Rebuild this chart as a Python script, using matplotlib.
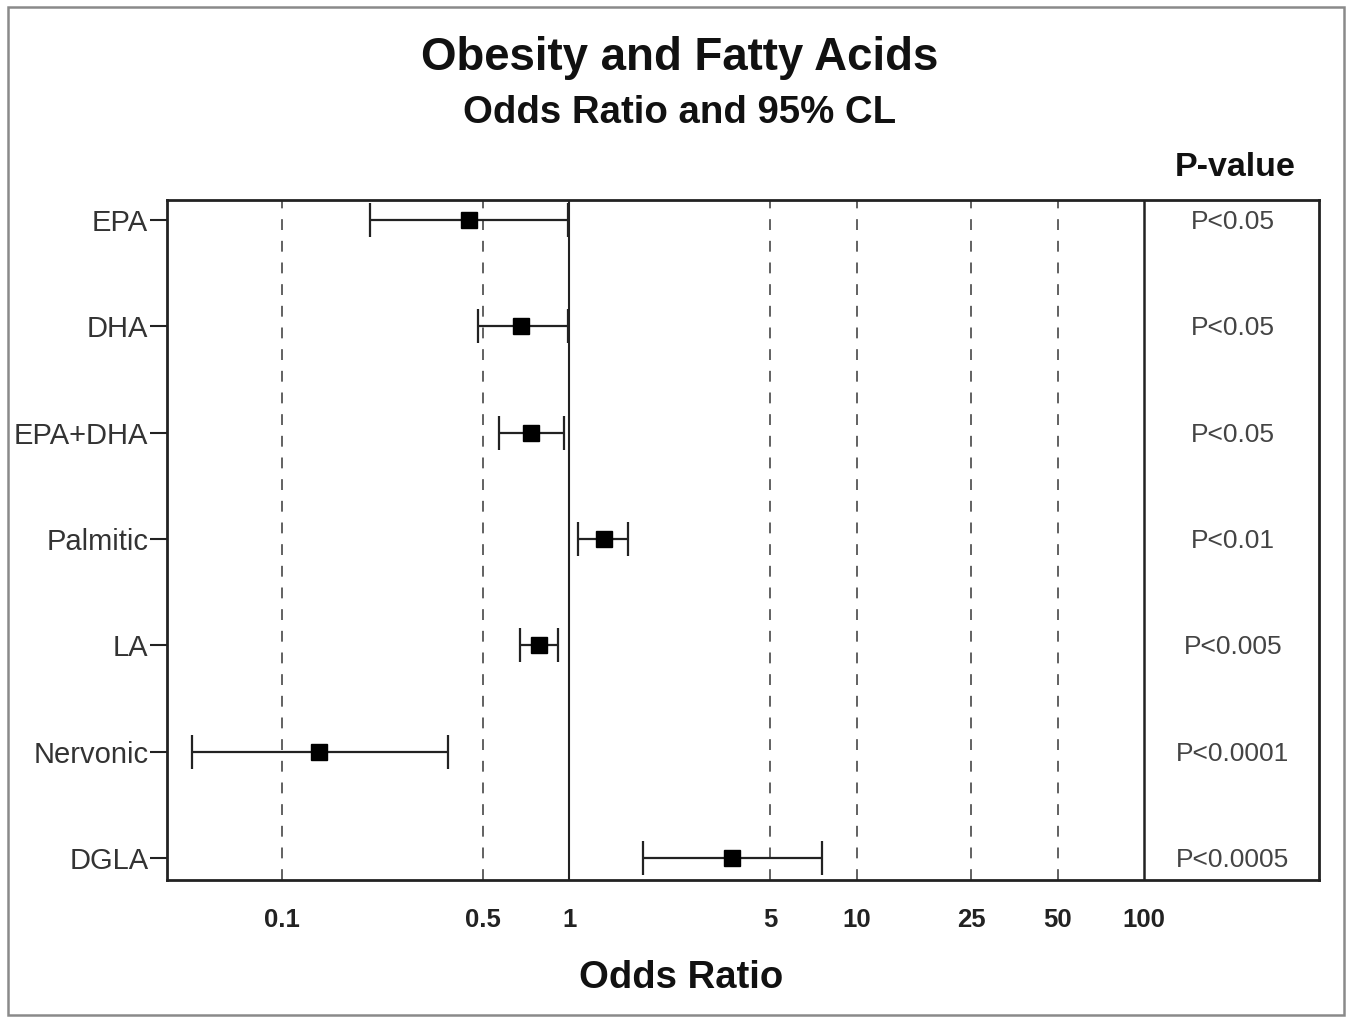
import matplotlib
matplotlib.use("Agg")
import matplotlib.pyplot as plt
from matplotlib.patches import Rectangle
import numpy as np

plt.rcParams['font.family'] = ['Liberation Sans', 'DejaVu Sans']

# ---- data ----
categories = ["EPA", "DHA", "EPA+DHA", "Palmitic", "LA", "Nervonic", "DGLA"]
odds_ratio = [0.447, 0.682, 0.735, 1.317, 0.787, 0.135, 3.68]
ci_low = [0.202, 0.482, 0.569, 1.074, 0.672, 0.0489, 1.81]
ci_high = [0.99, 0.99, 0.962, 1.598, 0.914, 0.379, 7.59]
p_values = ["P<0.05", "P<0.05", "P<0.05", "P<0.01", "P<0.005", "P<0.0001", "P<0.0005"]
tick_values = [0.1, 0.5, 1, 5, 10, 25, 50, 100]
tick_labels = ["0.1", "0.5", "1", "5", "10", "25", "50", "100"]
major_marks = [0.1, 1, 10, 100]
dashed_refs = [0.1, 0.5, 5, 10, 25, 50]

W, H = 1351, 1018
fig = plt.figure(figsize=(W / 100, H / 100), dpi=100)

# outer border
fig.patches.append(Rectangle((8 / W, 3 / H), 1336 / W, 1008 / H, transform=fig.transFigure,
                             fill=False, edgecolor="#8a8a8a", linewidth=1.8))

ax = fig.add_axes([167 / W, 1 - 880 / H, (1319 - 167) / W, (880 - 200) / H])
ax.set_xscale("log")
ax.set_xlim(0.0399, 405.5)
ax.set_ylim(6.207, -0.188)

y = np.arange(len(categories))
low_err = np.array(odds_ratio) - np.array(ci_low)
high_err = np.array(ci_high) - np.array(odds_ratio)

for v in dashed_refs:
    ax.axvline(v, color="#555555", linewidth=1.3, linestyle=(0, (6, 6)), zorder=1)
ax.axvline(1, color="#222222", linewidth=1.5, zorder=1)
ax.axvline(100, color="#222222", linewidth=1.8, zorder=1)

ax.errorbar(odds_ratio, y, xerr=[low_err, high_err], fmt="s", color="black",
            ecolor="#222222", elinewidth=1.6, capsize=12, capthick=1.6,
            markersize=11, zorder=3)

for yi, p in zip(y, p_values):
    ax.text((1233 - 167) / (1319 - 167), yi + 0.02, p, transform=ax.get_yaxis_transform(),
            ha="center", va="center", fontsize=19, color="#444444")

ax.set_yticks(y)
ax.set_yticklabels(categories, fontsize=21, color="#333333")
ax.tick_params(axis="y", length=12, width=1.5, pad=1.5, color="#222222")

ax.set_xticks(tick_values)
ax.set_xticklabels(tick_labels, fontsize=18.5, fontweight="bold", color="#222222")
ax.xaxis.set_minor_locator(matplotlib.ticker.FixedLocator(major_marks))
ax.xaxis.set_minor_formatter(matplotlib.ticker.NullFormatter())
ax.tick_params(axis="x", which="major", length=0, pad=20)
ax.tick_params(axis="x", which="minor", length=10, width=1.5, color="#222222")

for s in ax.spines.values():
    s.set_linewidth(2.0)
    s.set_color("#222222")

fig.text(681 / W, 1 - 978 / H, "Odds Ratio", ha="center", va="center",
         fontsize=27.5, fontweight="bold", color="#111111")
fig.text(680 / W, 1 - 58 / H, "Obesity and Fatty Acids", ha="center", va="center",
         fontsize=32.9, fontweight="bold", color="#111111")
fig.text(680 / W, 1 - 113 / H, "Odds Ratio and 95% CL", ha="center", va="center",
         fontsize=27.6, fontweight="bold", color="#111111")
fig.text(1235 / W, 1 - 168 / H, "P-value", ha="center", va="center",
         fontsize=24.5, fontweight="bold", color="#111111")

fig.savefig("out.png", dpi=100)
